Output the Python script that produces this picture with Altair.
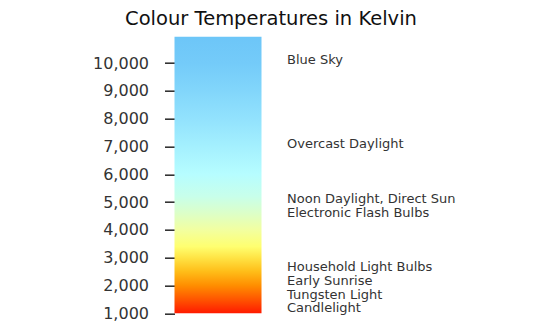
import altair as alt
import pandas as pd

# --- data -------------------------------------------------------------
tick_values = [1000, 2000, 3000, 4000, 5000, 6000, 7000, 8000, 9000, 10000]
bar_low = [1000]
bar_high = [10950]

label_names = [
    "Blue Sky",
    "Overcast Daylight",
    "Noon Daylight, Direct Sun",
    "Electronic Flash Bulbs",
    "Household Light Bulbs",
    "Early Sunrise",
    "Tungsten Light",
    "Candlelight",
]
label_kelvin = [10100, 7100, 5125, 4625, 2650, 2170, 1650, 1200]

stop_kelvin = [1000, 1500, 2000, 2500, 3000, 3400, 4000, 4600, 5200, 6000, 7000, 8000, 9000, 10000, 10950]
stop_colors = ["#ff1a00", "#ff5500", "#ff8e00", "#ffbd18", "#ffe445", "#ffff70", "#f2ffa0",
               "#dcffc8", "#c8ffea", "#b6fdff", "#a4f0fe", "#92e2fd", "#82d6fb", "#74cbf9", "#6dc6f8"]

# --- build ------------------------------------------------------------
lo, hi = bar_low[0], bar_high[0]
gradient = {
    "gradient": "linear",
    "x1": 0, "y1": 1, "x2": 0, "y2": 0,
    "stops": [{"offset": (k - lo) / (hi - lo), "color": c} for k, c in zip(stop_kelvin, stop_colors)],
}

bar_df = pd.DataFrame({"lo": bar_low, "hi": bar_high})
lab_df = pd.DataFrame({"name": label_names, "kelvin": label_kelvin})

yscale = alt.Scale(domain=[lo, hi], nice=False, zero=False)
yaxis = alt.Axis(values=tick_values, tickCount=len(tick_values), format=",.0f", title=None,
                 grid=False, domain=False, labelOverlap=False,
                 labelFont="DejaVu Sans", labelFontSize=16, labelColor="#333333",
                 tickColor="#333333", tickSize=10, tickWidth=1.6, labelPadding=16)

bar = alt.Chart(bar_df).mark_rect(color=gradient).encode(
    y=alt.Y("lo:Q", scale=yscale, axis=yaxis),
    y2="hi:Q",
    x=alt.value(0),
    x2=alt.value(87),
)

labels = alt.Chart(lab_df).mark_text(
    align="left", baseline="middle", font="DejaVu Sans", fontSize=13, color="#333333"
).encode(
    y=alt.Y("kelvin:Q", scale=yscale, axis=yaxis),
    x=alt.value(112.5),
    text="name:N",
)

W, H = 193, 276.6
chart = alt.layer(bar, labels).properties(
    width=W,
    height=H,
    title=alt.TitleParams(
        "Colour Temperatures in Kelvin",
        font="DejaVu Sans", fontSize=19.5, fontWeight="normal", color="#111111",
        anchor="middle", baseline="alphabetic", offset=9.7, dy=17,
    ),
    autosize=alt.AutoSizeParams(type="none"),
    padding={"left": 174.5, "top": 36.7, "right": 547 - 174.5 - W, "bottom": 324 - 36.7 - H},
    background="white",
).configure_view(stroke=None)

chart.save("out.html", embed_options={"renderer": "svg", "actions": False})
